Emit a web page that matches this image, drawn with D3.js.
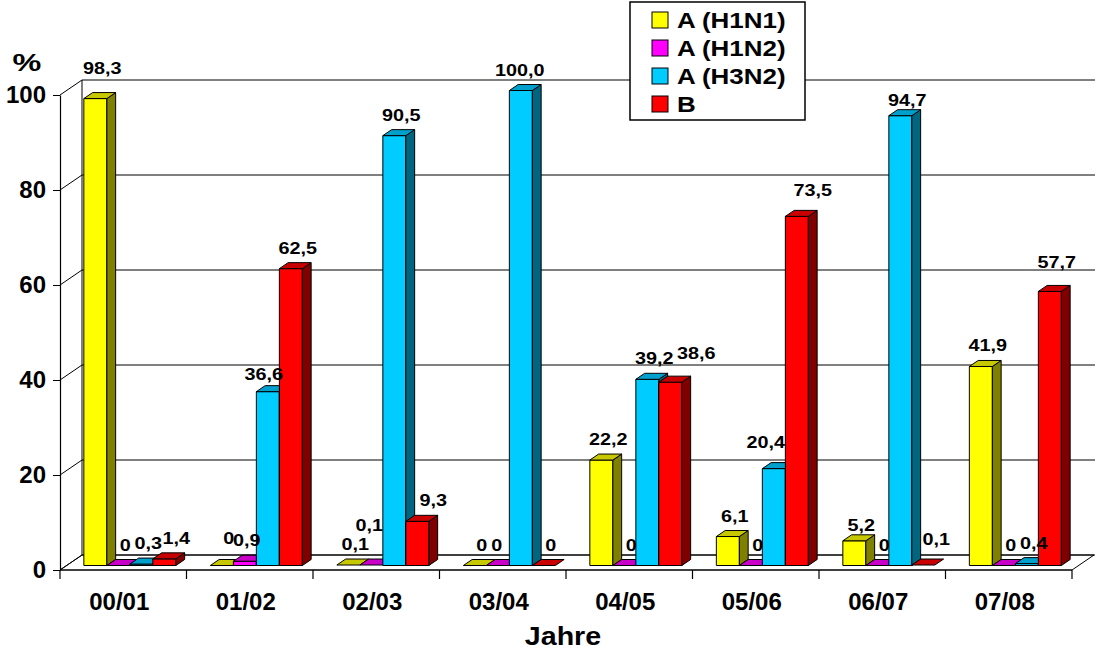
<!DOCTYPE html>
<html>
<head>
<meta charset="utf-8">
<script src="https://cdn.jsdelivr.net/npm/d3@7"></script>
<style>
  html, body { margin: 0; padding: 0; background: #fff; }
  svg { display: block; font-family: "Liberation Sans", Arial, sans-serif; font-weight: bold; }
</style>
</head>
<body>
<svg id="chart" width="1096" height="652"></svg>
<script>
// Influenza subtype shares per season (%)
const categories = ["00/01", "01/02", "02/03", "03/04", "04/05", "05/06", "06/07", "07/08"];
const seriesNames = ["A (H1N1)", "A (H1N2)", "A (H3N2)", "B"];
const h1n1 = [98.3, 0, 0.1, 0, 22.2, 6.1, 5.2, 41.9];
const h1n2 = [0, 0.9, 0.1, 0, 0, 0, 0, 0];
const h3n2 = [0.3, 36.6, 90.5, 100.0, 39.2, 20.4, 94.7, 0.4];
const typeB = [1.4, 62.5, 9.3, 0, 38.6, 73.5, 0.1, 57.7];
const yTicks = [0, 20, 40, 60, 80, 100];
const yTitle = "%";
const xTitle = "Jahre";

const seriesValues = [h1n1, h1n2, h3n2, typeB];

// face colours: front, top, side
const palette = [
  { front: "#FFFF00", top: "#C8C800", side: "#808000" },
  { front: "#FF00FF", top: "#C800C8", side: "#800080" },
  { front: "#00CCFF", top: "#00A0CC", side: "#006680" },
  { front: "#FF0000", top: "#C80000", side: "#800000" }
];

// small label shifts where labels were moved apart
const labelShift = {
  "0|0": [0, -10], "0|3": [5, 0],
  "1|0": [0, -7], "1|1": [-5, 0], "1|2": [-11, 3],
  "2|1": [-9, -19], "2|3": [9, 0],
  "3|1": [-8, 0], "3|2": [-8, 0],
  "4|3": [19, -8],
  "5|2": [-15, -6], "5|3": [9, -5],
  "6|0": [0, 5], "6|2": [0, 5], "6|3": [6, -5],
  "7|3": [0, -8]
};

const svg = d3.select("#chart");

// plot frame (front plane) and depth of the 3D box
const plotL = 60, plotR = 1072, plotB = 570, plotT = 95;
const DX = 22, DY = -15;
const barFront = 0.3, barDepth = 0.4;

const y = d3.scaleLinear().domain([0, 100]).range([plotB, plotT]);
const x0 = d3.scaleBand().domain(categories).range([plotL, plotR]);
const x1 = d3.scaleBand().domain(seriesNames).range([0, x0.bandwidth()])
  .paddingInner(0).paddingOuter(0.75);

const fmt = v => v === 0 ? "0" : v.toFixed(1).replace(".", ",");

// ---- walls and floor ----
const wall = svg.append("g").attr("stroke", "#000").attr("stroke-width", 1).attr("fill", "none");
wall.append("path")
  .attr("fill", "#fff")
  .attr("d", `M${plotL},${y(0)} L${plotR},${y(0)} L${plotR + DX},${y(0) + DY} L${plotL + DX},${y(0) + DY} Z`);
yTicks.forEach(v => {
  wall.append("line")
    .attr("x1", plotL + DX).attr("x2", plotR + DX + 1)
    .attr("y1", y(v) + DY).attr("y2", y(v) + DY);
  wall.append("line")
    .attr("x1", plotL).attr("x2", plotL + DX)
    .attr("y1", y(v)).attr("y2", y(v) + DY);
});
wall.append("line")
  .attr("x1", plotL + DX).attr("x2", plotL + DX)
  .attr("y1", y(0) + DY).attr("y2", y(100) + DY);

// ---- y axis ----
const yAxis = d3.axisLeft(y).tickValues(yTicks).tickSize(7).tickSizeOuter(0).tickPadding(7)
  .tickFormat(d3.format("d"));
const yg = svg.append("g").attr("transform", `translate(${plotL},0)`).call(yAxis);
yg.select(".domain").attr("stroke", "#000").attr("stroke-width", 1.2);
yg.selectAll(".tick line").attr("stroke", "#000");
yg.selectAll(".tick text")
  .attr("fill", "#000")
  .style("font-family", "'Liberation Sans', Arial, sans-serif")
  .style("font-weight", "bold")
  .style("font-size", "24px");

svg.append("text")
  .attr("transform", "translate(27,71) scale(1.35,1)")
  .attr("text-anchor", "middle")
  .style("font-size", "24px")
  .text(yTitle);

// ---- x axis (front edge of floor) ----
const xAxisG = svg.append("g").attr("stroke", "#000").attr("stroke-width", 1.2);
xAxisG.append("line")
  .attr("x1", plotL).attr("x2", plotR).attr("y1", y(0)).attr("y2", y(0));
const bounds = categories.map(c => x0(c)).concat([plotR]);
xAxisG.selectAll("line.tick").data(bounds).join("line")
  .attr("class", "tick")
  .attr("x1", d => d).attr("x2", d => d)
  .attr("y1", y(0)).attr("y2", y(0) + 9);

svg.append("g").selectAll("text").data(categories).join("text")
  .attr("x", d => x0(d) + x0.bandwidth() / 2 - 4)
  .attr("y", 610)
  .attr("text-anchor", "middle")
  .style("font-size", "24px")
  .text(d => d);

svg.append("text")
  .attr("transform", `translate(${(plotL + plotR) / 2 - 3},645) scale(1.1,1)`)
  .attr("text-anchor", "middle")
  .style("font-size", "26px")
  .text(xTitle);

// ---- bars ----
const bars = [];
categories.forEach((c, ci) => {
  seriesNames.forEach((s, si) => {
    bars.push({ ci, si, cat: c, series: s, value: seriesValues[si][ci] });
  });
});

const bw = x1.bandwidth();
const bdx = barDepth * DX, bdy = barDepth * DY;
const barG = svg.append("g").attr("stroke", "#000").attr("stroke-width", 1).attr("stroke-linejoin", "round");

bars.forEach(b => {
  const fx = x0(b.cat) + x1(b.series) + barFront * DX;
  const base = y(0) + barFront * DY;
  const tp = y(b.value) + barFront * DY;
  const col = palette[b.si];
  const g = barG.append("g");
  if (base - tp > 0.5) {
    g.append("rect")
      .attr("x", fx).attr("y", tp).attr("width", bw).attr("height", base - tp)
      .attr("fill", col.front);
    g.append("path")
      .attr("fill", col.side)
      .attr("d", `M${fx + bw},${tp} L${fx + bw + bdx},${tp + bdy} L${fx + bw + bdx},${base + bdy} L${fx + bw},${base} Z`);
  }
  g.append("path")
    .attr("fill", col.top)
    .attr("d", `M${fx},${tp} L${fx + bdx},${tp + bdy} L${fx + bw + bdx},${tp + bdy} L${fx + bw},${tp} Z`);
});

// ---- value labels ----
svg.append("g").selectAll("text").data(bars).join("text")
  .attr("transform", d => {
    const sh = labelShift[d.ci + "|" + d.si] || [0, 0];
    const cx = x0(d.cat) + x1(d.series) + barFront * DX + bw / 2 + 7 + sh[0];
    const by = y(d.value) + (barFront + barDepth) * DY - 9 + sh[1];
    return `translate(${cx},${by}) scale(1.2,1)`;
  })
  .attr("text-anchor", "middle")
  .style("font-size", "16.5px")
  .text(d => fmt(d.value));

// ---- legend ----
const lg = svg.append("g");
lg.append("rect")
  .attr("x", 630).attr("y", 2).attr("width", 175).attr("height", 118)
  .attr("fill", "#fff").attr("stroke", "#000").attr("stroke-width", 1.5);
seriesNames.forEach((s, i) => {
  const cy = 20 + i * 28;
  lg.append("rect")
    .attr("x", 652).attr("y", cy - 8).attr("width", 16).attr("height", 16)
    .attr("fill", palette[i].front).attr("stroke", "#000").attr("stroke-width", 1);
  lg.append("text")
    .attr("transform", `translate(677,${cy + 8}) scale(1.18,1)`)
    .style("font-size", "22px")
    .text(s);
});
</script>
</body>
</html>
